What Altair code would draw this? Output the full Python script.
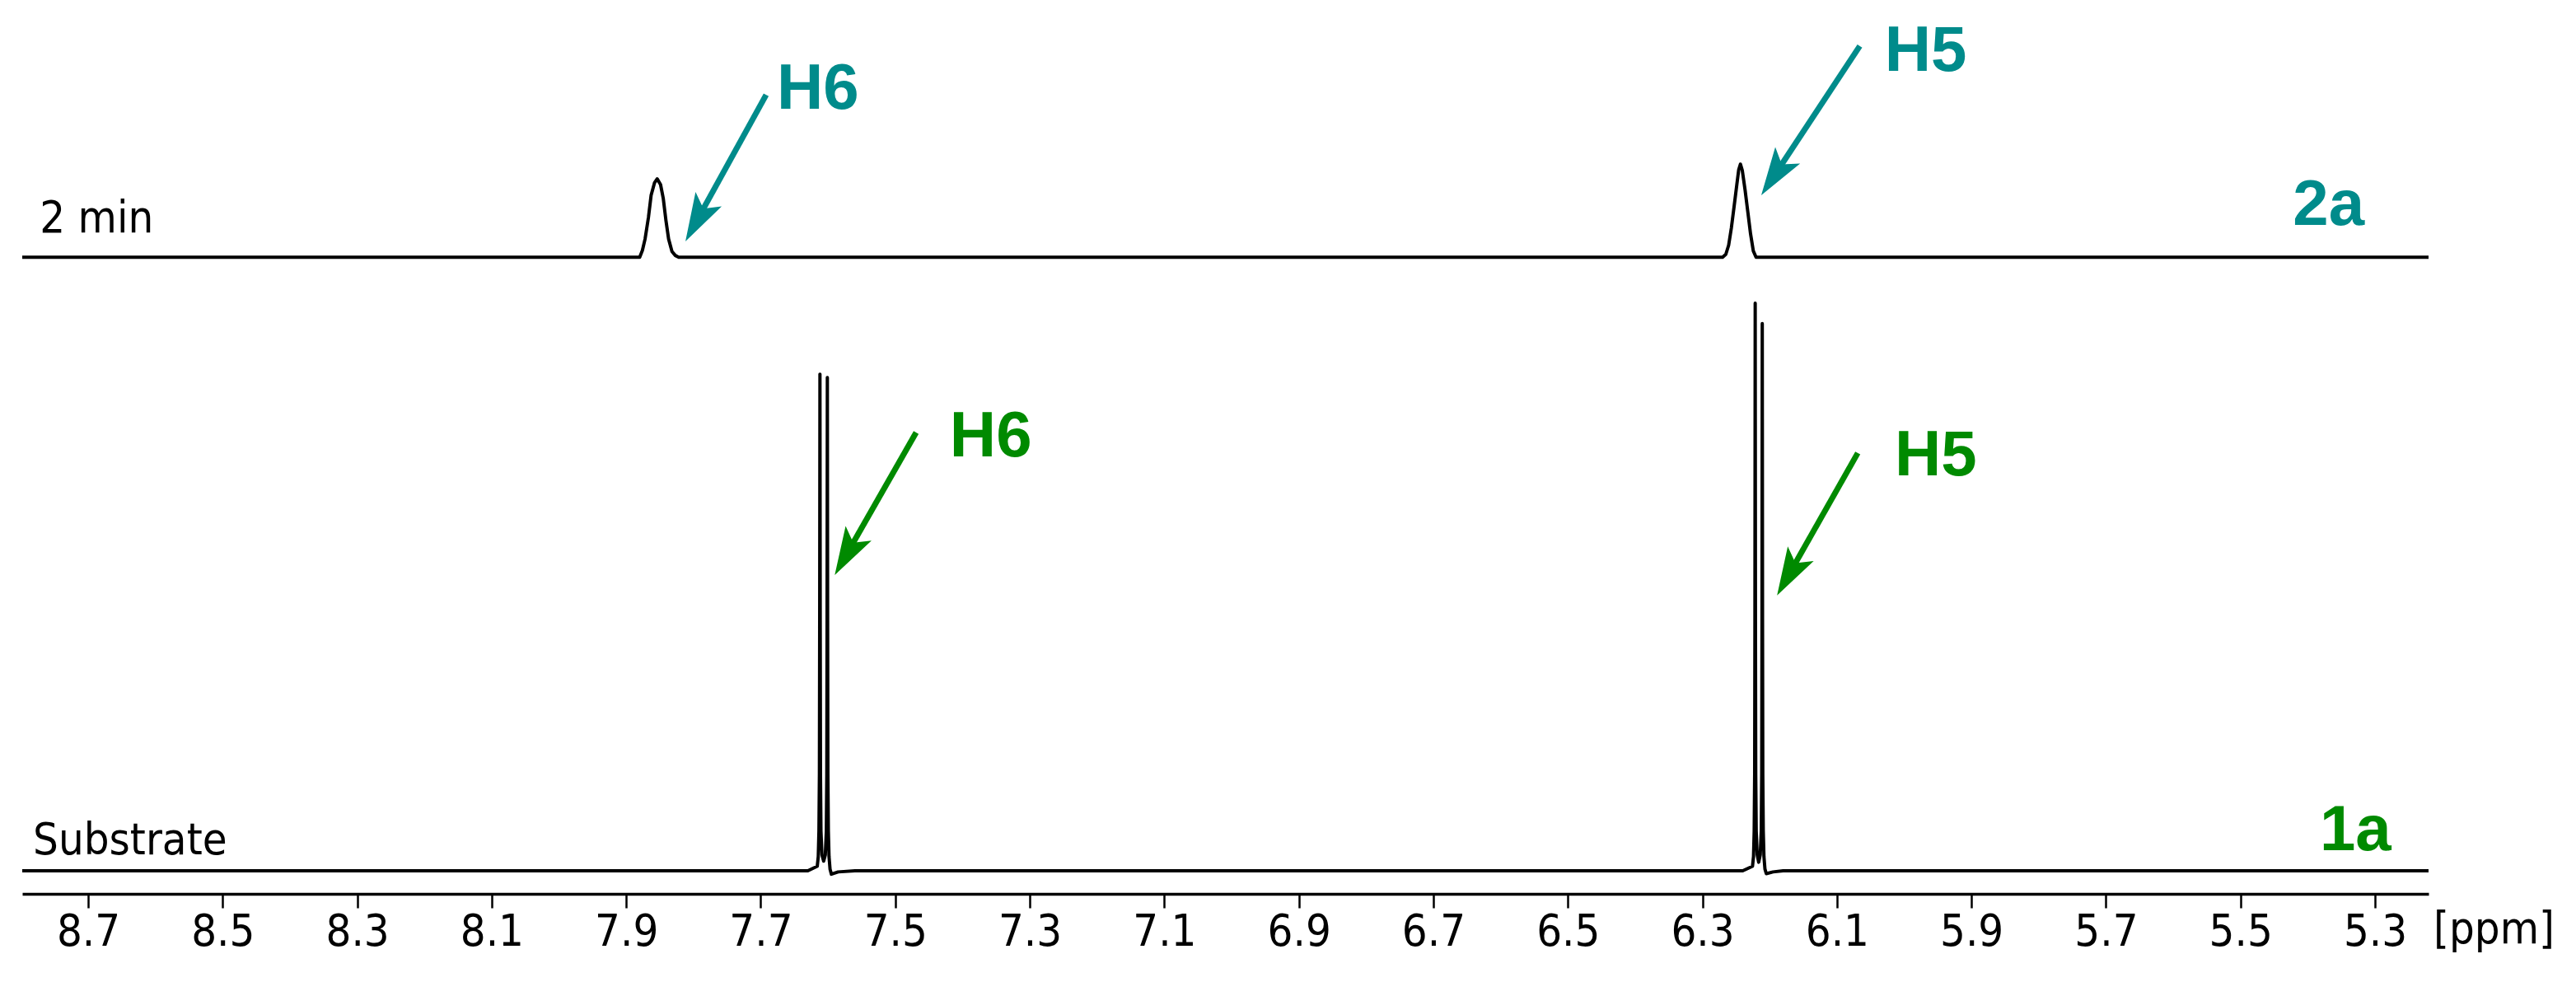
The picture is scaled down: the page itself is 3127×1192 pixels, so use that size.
import math
import altair as alt
import pandas as pd

# ---------------- data ----------------
# spectrum "2a" (2 min) : chemical shift [ppm] / relative intensity
spec_2a_ppm = [8.798, 7.880, 7.876, 7.872, 7.867, 7.863, 7.858, 7.854, 7.849, 7.845,
               7.841, 7.837, 7.832, 7.827, 7.822,
               6.2700, 6.2652, 6.2610, 6.2570, 6.2529, 6.2488, 6.2460, 6.2435, 6.2407,
               6.2365, 6.2325, 6.2284, 6.2243, 6.2202, 5.2204]
spec_2a_int = [0, 0, 1.2, 3.2, 7.0, 10.9, 13.1, 13.8, 12.8, 10.4,
               6.5, 3.2, 1.0, 0.3, 0,
               0, 0.5, 2.1, 5.1, 8.9, 12.8, 15.4, 16.4, 15.3,
               11.8, 8.0, 4.1, 1.1, 0, 0]

# spectrum "1a" (substrate)
spec_1a_ppm = [8.798, 7.630, 7.6160, 7.6145, 7.6135, 7.6128, 7.6124, 7.6120, 7.6116, 7.6112,
               7.6105, 7.6090, 7.6065, 7.6040, 7.6025, 7.6018, 7.6014, 7.6010, 7.6006, 7.6002,
               7.5995, 7.5985, 7.5970, 7.5950, 7.5850, 7.560,
               6.240, 6.2255, 6.2240, 6.2230, 6.2223, 6.2219, 6.2215, 6.2211, 6.2207, 6.2200,
               6.2185, 6.2163, 6.2140, 6.2125, 6.2118, 6.2114, 6.2110, 6.2106, 6.2102, 6.2095,
               6.2085, 6.2070, 6.2050, 6.195, 6.180, 5.2204]
spec_1a_int = [0, 0, 0.8, 2.5, 7, 17, 44, 87.5, 44, 17,
               7, 2.8, 1.7, 2.8, 7, 17, 44, 86.9, 44, 17,
               7, 2.5, 0.3, -0.6, -0.2, 0,
               0, 0.8, 2.5, 7, 17, 44, 100, 44, 17, 7,
               2.8, 1.5, 2.8, 7, 17, 44, 96.4, 44, 17, 7,
               2.5, 0.3, -0.5, -0.2, 0, 0]

spectrum_names = ["2a", "1a"]
spectrum_offsets = [108.1, 0.0]
spectrum_colors = ["#008B8B", "#008A00"]

tick_values = [8.7, 8.5, 8.3, 8.1, 7.9, 7.7, 7.5, 7.3, 7.1, 6.9,
               6.7, 6.5, 6.3, 6.1, 5.9, 5.7, 5.5, 5.3]
x_domain = [8.798, 5.2204]
y_domain = [-4.064, 152.25]

# peak annotations
peak_labels = ["H6", "H5", "H6", "H5"]
peak_group = ["2a", "2a", "1a", "1a"]
label_ppm = [7.615, 5.968, 7.358, 5.953]
label_int = [134.25, 141.0, 73.0, 69.7]
arrow_start_ppm = [7.692, 6.066, 7.469, 6.069]
arrow_start_int = [136.7, 145.3, 77.2, 73.6]
arrow_tip_ppm = [7.812, 6.2125, 7.590, 6.189]
arrow_tip_int = [110.9, 119.0, 52.1, 48.5]

compound_labels = ["2a", "1a"]
compound_ppm = [5.369, 5.329]
compound_int = [113.8, 3.63]

time_labels = ["2 min", "Substrate"]
time_ppm = [8.772, 8.782]
time_int = [112.5, 2.9]

unit_label = "[ppm]"
unit_ppm = 5.213
unit_int = -12.77

# ---------------- layout ----------------
W, H = 2921, 1077
kx = W / (x_domain[0] - x_domain[1])
ky = H / (y_domain[1] - y_domain[0])
TICK_FONT = "DejaVu Sans Condensed, DejaVu Sans, sans-serif"
BOLD_FONT = "Liberation Sans, Arial, sans-serif"

rows = []
for name, off, ppm_list, int_list in [("2a", spectrum_offsets[0], spec_2a_ppm, spec_2a_int),
                                      ("1a", spectrum_offsets[1], spec_1a_ppm, spec_1a_int)]:
    for p, i in zip(ppm_list, int_list):
        rows.append({"ppm": p, "intensity": i, "offset": off, "spectrum": name})
spec_df = pd.DataFrame(rows)

arrows = []
for g, sp, si, tp, ti in zip(peak_group, arrow_start_ppm, arrow_start_int, arrow_tip_ppm, arrow_tip_int):
    dx = -(tp - sp) * kx
    dy = -(ti - si) * ky
    L = math.hypot(dx, dy)
    ang = math.degrees(math.atan2(dx, -dy)) % 360
    f = 34.0 / L
    arrows.append({"group": g, "sp": sp, "si": si, "tp": tp, "ti": ti,
                   "ep": tp + (sp - tp) * f, "ei": ti + (si - ti) * f, "angle": ang})
arrow_df = pd.DataFrame(arrows)

label_df = pd.DataFrame({"text": peak_labels, "group": peak_group, "ppm": label_ppm, "y": label_int})
comp_df = pd.DataFrame({"text": compound_labels, "group": compound_labels,
                        "ppm": compound_ppm, "y": compound_int})
time_df = pd.DataFrame({"text": time_labels, "ppm": time_ppm, "y": time_int})
unit_df = pd.DataFrame({"text": [unit_label], "ppm": [unit_ppm], "y": [unit_int]})

xscale = alt.Scale(domain=x_domain, nice=False, zero=False)
yscale = alt.Scale(domain=y_domain, nice=False, zero=False)
cscale = alt.Scale(domain=spectrum_names, range=spectrum_colors)

x_axis = alt.Axis(values=tick_values, format=".1f", title=None, grid=False,
                  labelFont=TICK_FONT, labelFontSize=54, labelColor="black",
                  labelPadding=2, labelFlush=False, labelOverlap=False,
                  tickSize=17, tickWidth=2.5, tickColor="black",
                  domainColor="black", domainWidth=3.5)

spectra = alt.Chart(spec_df).transform_calculate(
    yv="datum.intensity + datum.offset"
).mark_line(color="black", strokeWidth=4, strokeJoin="round").encode(
    x=alt.X("ppm:Q", scale=xscale, axis=x_axis),
    y=alt.Y("yv:Q", scale=yscale, axis=None),
    detail="spectrum:N",
)

shafts = alt.Chart(arrow_df).mark_rule(strokeWidth=7, strokeCap="butt").encode(
    x=alt.X("sp:Q", scale=xscale),
    y=alt.Y("si:Q", scale=yscale),
    x2="ep:Q",
    y2="ei:Q",
    color=alt.Color("group:N", scale=cscale, legend=None),
)

heads = alt.Chart(arrow_df).mark_point(
    shape="M0,0 L0.62,2 L0,1.55 L-0.62,2 Z", size=3400, filled=True, opacity=1, strokeWidth=0
).encode(
    x=alt.X("tp:Q", scale=xscale),
    y=alt.Y("ti:Q", scale=yscale),
    angle=alt.Angle("angle:Q", scale=None),
    color=alt.Color("group:N", scale=cscale, legend=None),
)

peak_text = alt.Chart(label_df).mark_text(
    font=BOLD_FONT, fontWeight="bold", fontSize=78, align="center", baseline="alphabetic"
).encode(
    x=alt.X("ppm:Q", scale=xscale),
    y=alt.Y("y:Q", scale=yscale),
    text="text:N",
    color=alt.Color("group:N", scale=cscale, legend=None),
)

comp_text = alt.Chart(comp_df).mark_text(
    font=BOLD_FONT, fontWeight="bold", fontSize=78, align="center", baseline="alphabetic"
).encode(
    x=alt.X("ppm:Q", scale=xscale),
    y=alt.Y("y:Q", scale=yscale),
    text="text:N",
    color=alt.Color("group:N", scale=cscale, legend=None),
)

time_text = alt.Chart(time_df).mark_text(
    font=TICK_FONT, fontSize=54, align="left", baseline="alphabetic", color="black"
).encode(
    x=alt.X("ppm:Q", scale=xscale),
    y=alt.Y("y:Q", scale=yscale),
    text="text:N",
)

unit_text = alt.Chart(unit_df).mark_text(
    font=TICK_FONT, fontSize=54, align="left", baseline="alphabetic", color="black"
).encode(
    x=alt.X("ppm:Q", scale=xscale),
    y=alt.Y("y:Q", scale=yscale),
    text="text:N",
)

chart = alt.layer(spectra, shafts, heads, peak_text, comp_text, time_text, unit_text).properties(
    width=W, height=H,
    padding={"left": 19, "top": 0, "right": 170, "bottom": 100},
    autosize=alt.AutoSizeParams(type="none"),
    background="white",
).configure_view(strokeWidth=0)

chart.save("out.html", embed_options={"renderer": "svg", "actions": False})
